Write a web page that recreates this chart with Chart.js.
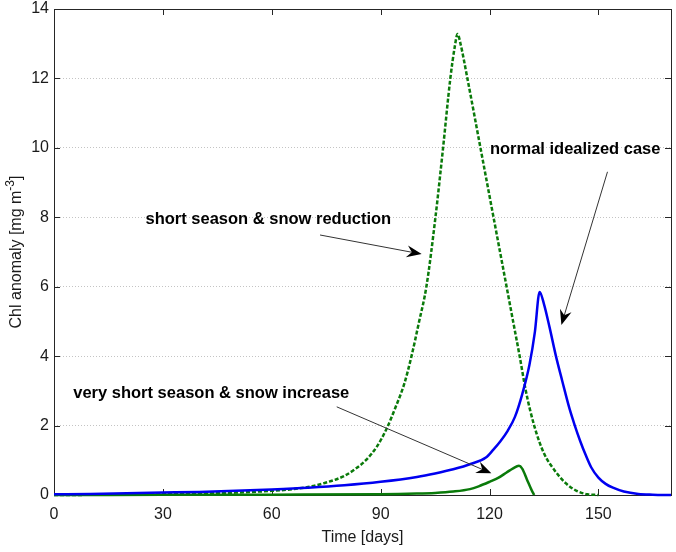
<!DOCTYPE html>
<html>
<head>
<meta charset="utf-8">
<script src="https://cdn.jsdelivr.net/npm/chart.js@4"></script>
<style>
  html, body { margin: 0; padding: 0; background: #fff; }
</style>
</head>
<body>
<canvas id="chlChart" width="676" height="552"></canvas>
<script>
// x ticks (days) and y ticks (Chl)
const dayTicks = [0, 30, 60, 90, 120, 150];
const chlTicks = [0, 2, 4, 6, 8, 10, 12, 14];

// normal idealized case (blue)
const normalDays = [0, 10, 20, 30, 40, 50, 60, 70, 80, 90, 100, 105, 110, 115, 119, 121, 123, 125, 127, 129, 131, 132.5, 133.8, 135, 136.5, 138.3, 140, 142, 143.5, 145, 146.5, 148, 150, 152, 154, 157, 161, 165, 170];
const normalChl = [0.02, 0.03, 0.05, 0.07, 0.09, 0.12, 0.16, 0.21, 0.28, 0.38, 0.52, 0.62, 0.74, 0.9, 1.08, 1.3, 1.55, 1.85, 2.25, 2.9, 3.75, 4.7, 5.85, 5.5, 4.85, 4.0, 3.3, 2.5, 2.0, 1.55, 1.15, 0.8, 0.5, 0.32, 0.21, 0.1, 0.03, 0.01, 0];

// short season & snow reduction (green dashed)
const reductionDays = [0, 20, 30, 40, 50, 60, 66, 70, 75, 80, 83, 86, 89, 91.6, 94, 96.5, 98.5, 100.5, 102.6, 105.1, 107.2, 109.2, 110.4, 111.2, 112, 113.9, 117.5, 121.1, 124.7, 126.5, 128.3, 130, 132.3, 135, 138, 141, 144, 147, 150];
const reductionChl = [0, 0.01, 0.02, 0.04, 0.07, 0.12, 0.17, 0.23, 0.36, 0.55, 0.75, 1.01, 1.4, 1.9, 2.5, 3.2, 4.0, 4.95, 6.0, 8.0, 10.0, 12.0, 12.9, 13.28, 13.0, 12.0, 10.0, 8.0, 6.0, 5.0, 4.0, 3.0, 2.0, 1.2, 0.7, 0.34, 0.12, 0.02, 0];

// very short season & snow increase (green solid)
const increaseDays = [0, 30, 60, 90, 100, 105, 110, 114.6, 117, 120, 122.5, 124.7, 126.5, 128.1, 129, 130.3, 131.6, 132.3];
const increaseChl = [0, 0.005, 0.01, 0.02, 0.04, 0.06, 0.1, 0.17, 0.25, 0.38, 0.5, 0.65, 0.77, 0.84, 0.76, 0.45, 0.14, 0];

// text annotations with arrows (data coordinates)
const noteLabels = ["short season & snow reduction", "normal idealized case", "very short season & snow increase"];
const noteTextAt = [[25.2, 7.94], [120.1, 9.94], [5.3, 2.93]];
const noteArrowFrom = [[73.3, 7.49], [152.5, 9.31], [77.9, 2.54]];
const noteArrowTo = [[101.3, 6.94], [139.8, 4.90], [120.5, 0.625]];

const toPoints = (xs, ys) => xs.map((x, i) => ({ x: x, y: ys[i] }));

const inkColor = "#1a1a1a";

// draws the MATLAB style box, inward ticks, y label and arrows
const matlabFrame = {
    id: "matlabFrame",
    beforeDatasetsDraw(chart) {
        const { ctx, chartArea: a, scales } = chart;
        ctx.save();
        ctx.strokeStyle = "#262626";
        ctx.lineWidth = 1;
        ctx.strokeRect(Math.round(a.left) + 0.5, Math.round(a.top) + 0.5, Math.round(a.right - a.left), Math.round(a.bottom - a.top));
        ctx.beginPath();
        dayTicks.forEach(d => {
            const px = Math.round(scales.x.getPixelForValue(d)) + 0.5;
            ctx.moveTo(px, a.bottom); ctx.lineTo(px, a.bottom - 6);
            ctx.moveTo(px, a.top); ctx.lineTo(px, a.top + 6);
        });
        chlTicks.forEach(v => {
            const py = Math.round(scales.y.getPixelForValue(v)) + 0.5;
            ctx.moveTo(a.left, py); ctx.lineTo(a.left + 6, py);
            ctx.moveTo(a.right, py); ctx.lineTo(a.right - 6, py);
        });
        ctx.stroke();
        ctx.restore();
    },
    afterDraw(chart) {
        const { ctx, chartArea: a, scales } = chart;
        ctx.save();

        // y axis title with superscript
        ctx.translate(17, (a.top + a.bottom) / 2);
        ctx.rotate(-Math.PI / 2);
        ctx.fillStyle = inkColor;
        ctx.textBaseline = "middle";
        const base = "Chl anomaly [mg m";
        const sup = "-3";
        const tail = "]";
        ctx.font = "16px 'Liberation Sans', Arial, sans-serif";
        const wBase = ctx.measureText(base).width;
        const wTail = ctx.measureText(tail).width;
        ctx.font = "12px 'Liberation Sans', Arial, sans-serif";
        const wSup = ctx.measureText(sup).width;
        let x0 = -(wBase + wSup + wTail) / 2;
        ctx.font = "16px 'Liberation Sans', Arial, sans-serif";
        ctx.fillText(base, x0, 0);
        ctx.font = "12px 'Liberation Sans', Arial, sans-serif";
        ctx.fillText(sup, x0 + wBase, -6);
        ctx.font = "16px 'Liberation Sans', Arial, sans-serif";
        ctx.fillText(tail, x0 + wBase + wSup, 0);
        ctx.restore();

        // annotations
        ctx.save();
        ctx.font = "bold 16.5px 'Liberation Sans', Arial, sans-serif";
        ctx.fillStyle = "#000";
        ctx.textBaseline = "middle";
        noteLabels.forEach((label, i) => {
            const tx = scales.x.getPixelForValue(noteTextAt[i][0]);
            const ty = scales.y.getPixelForValue(noteTextAt[i][1]);
            ctx.fillText(label, tx, ty);

            const x1 = scales.x.getPixelForValue(noteArrowFrom[i][0]);
            const y1 = scales.y.getPixelForValue(noteArrowFrom[i][1]);
            const x2 = scales.x.getPixelForValue(noteArrowTo[i][0]);
            const y2 = scales.y.getPixelForValue(noteArrowTo[i][1]);
            const ang = Math.atan2(y2 - y1, x2 - x1);
            const headLen = 15, headW = 6, notch = 10;

            ctx.strokeStyle = "#333";
            ctx.lineWidth = 1;
            ctx.beginPath();
            ctx.moveTo(x1, y1);
            ctx.lineTo(x2 - Math.cos(ang) * notch, y2 - Math.sin(ang) * notch);
            ctx.stroke();

            const bx = x2 - Math.cos(ang) * headLen;
            const by = y2 - Math.sin(ang) * headLen;
            const nx = x2 - Math.cos(ang) * notch;
            const ny = y2 - Math.sin(ang) * notch;
            ctx.beginPath();
            ctx.moveTo(x2, y2);
            ctx.lineTo(bx + Math.sin(ang) * headW, by - Math.cos(ang) * headW);
            ctx.lineTo(nx, ny);
            ctx.lineTo(bx - Math.sin(ang) * headW, by + Math.cos(ang) * headW);
            ctx.closePath();
            ctx.fill();
        });
        ctx.restore();
    }
};

const chart = new Chart(document.getElementById("chlChart"), {
    type: "line",
    data: {
        datasets: [
            {
                label: "normal idealized case",
                data: toPoints(normalDays, normalChl),
                borderColor: "#0000f0",
                borderWidth: 2.5,
                pointRadius: 0,
                cubicInterpolationMode: "monotone",
                clip: false
            },
            {
                label: "short season & snow reduction",
                data: toPoints(reductionDays, reductionChl),
                borderColor: "#0a7a0a",
                borderWidth: 2.5,
                borderDash: [4, 2],
                pointRadius: 0,
                cubicInterpolationMode: "monotone",
                clip: false
            },
            {
                label: "very short season & snow increase",
                data: toPoints(increaseDays, increaseChl),
                borderColor: "#0a7a0a",
                borderWidth: 2.5,
                pointRadius: 0,
                cubicInterpolationMode: "monotone",
                clip: false
            }
        ]
    },
    options: {
        responsive: false,
        animation: false,
        layout: { padding: { top: 9, right: 5, left: 0, bottom: 5 } },
        plugins: {
            legend: { display: false },
            tooltip: { enabled: false }
        },
        scales: {
            x: {
                type: "linear",
                min: 0,
                max: 170,
                afterFit: (scale) => { scale.height = 57 - 5; scale.paddingLeft = 0; scale.paddingRight = 0; },
                afterBuildTicks: (scale) => { scale.ticks = dayTicks.map(v => ({ value: v })); },
                grid: { display: false },
                border: { display: false },
                ticks: {
                    color: inkColor,
                    padding: 2,
                    maxRotation: 0,
                    font: { family: "'Liberation Sans', Arial, sans-serif", size: 16 }
                },
                title: {
                    display: true,
                    text: "Time [days]",
                    color: inkColor,
                    padding: { top: 0, bottom: 0 },
                    font: { family: "'Liberation Sans', Arial, sans-serif", size: 16 }
                }
            },
            y: {
                min: 0,
                max: 14,
                afterFit: (scale) => { scale.width = 54; scale.paddingTop = 0; scale.paddingBottom = 0; },
                afterBuildTicks: (scale) => { scale.ticks = chlTicks.map(v => ({ value: v })); },
                grid: { color: "#c4c4c4", drawTicks: false, lineWidth: 1 },
                border: { display: false, dash: [1, 2] },
                ticks: {
                    color: inkColor,
                    padding: 5,
                    font: { family: "'Liberation Sans', Arial, sans-serif", size: 16 }
                }
            }
        }
    },
    plugins: [matlabFrame]
});
</script>
</body>
</html>
